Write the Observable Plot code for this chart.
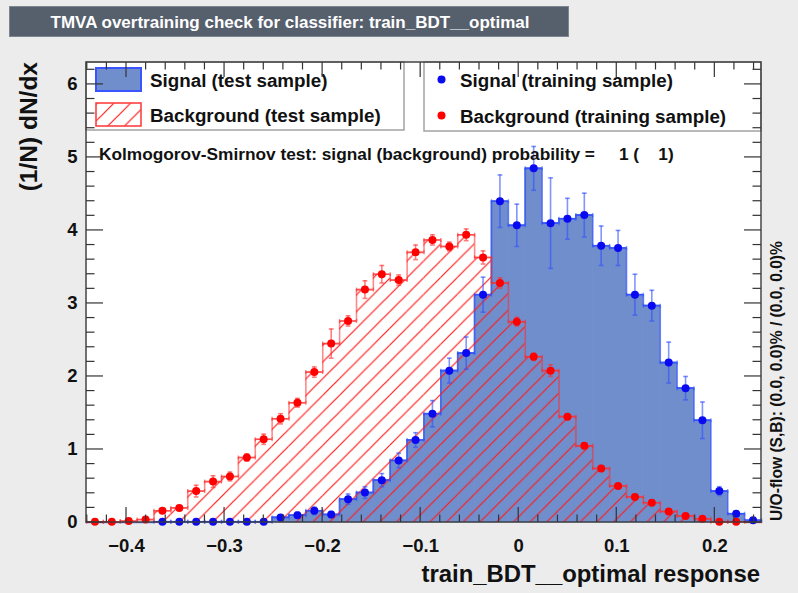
<!DOCTYPE html>
<html>
<head>
<meta charset="utf-8">
<script src="https://cdn.jsdelivr.net/npm/d3@7"></script>
<script src="https://cdn.jsdelivr.net/npm/@observablehq/plot@0.6"></script>
<style>
  html, body { margin: 0; padding: 0; background: #ececec; }
  #chart { width: 798px; height: 593px; }
  text { font-family: "Liberation Sans", Arial, Helvetica, sans-serif; }
</style>
</head>
<body>
<div id="chart"></div>
<script>
// ---- Histogram definition (40 bins) ----
const nBins = 40;
const xMin = -0.4408;
const xMax = 0.2476;

// Signal (test sample) histogram, normalised (1/N dN/dx)
const sigTest = [0, 0, 0, 0, 0.01, 0.01, 0.01, 0.01, 0.01, 0.01,
  0.01, 0.07, 0.10, 0.16, 0.11, 0.32, 0.41, 0.58, 0.85, 1.13,
  1.49, 2.08, 2.32, 3.12, 4.40, 4.07, 4.85, 4.10, 4.16, 4.21,
  3.79, 3.76, 3.12, 2.97, 2.19, 1.84, 1.40, 0.43, 0.12, 0.03];
// Signal (training sample) points
const sigTrain = [null, null, null, null, 0.01, 0.01, 0.01, 0.01, 0.01, 0.01,
  0.01, 0.07, 0.10, 0.16, 0.11, 0.32, 0.41, 0.58, 0.85, 1.13,
  1.49, 2.08, 2.32, 3.12, 4.40, 4.07, 4.85, 4.10, 4.16, 4.21,
  3.79, 3.76, 3.12, 2.97, 2.19, 1.84, 1.40, 0.43, 0.12, 0.03];
const sigErr = [0, 0, 0, 0, 0.01, 0.01, 0.01, 0.01, 0.01, 0.01,
  0.01, 0.03, 0.04, 0.05, 0.04, 0.07, 0.08, 0.09, 0.10, 0.10,
  0.18, 0.17, 0.22, 0.24, 0.36, 0.29, 0.30, 0.62, 0.28, 0.30,
  0.27, 0.24, 0.28, 0.21, 0.28, 0.16, 0.25, 0.06, 0.04, 0.02];

// Background (test sample) histogram
const bkgTest = [0.01, 0.01, 0.02, 0.04, 0.16, 0.20, 0.43, 0.56, 0.63, 0.89,
  1.14, 1.42, 1.64, 2.06, 2.45, 2.76, 3.19, 3.40, 3.32, 3.70,
  3.87, 3.78, 3.94, 3.63, 3.28, 2.75, 2.27, 2.08, 1.45, 1.05,
  0.74, 0.50, 0.35, 0.27, 0.15, 0.09, 0.05, 0.01, 0.01, 0];
// Background (training sample) points
const bkgTrain = [0.01, 0.01, 0.02, 0.04, 0.16, 0.20, 0.43, 0.56, 0.63, 0.89,
  1.14, 1.42, 1.64, 2.06, 2.45, 2.76, 3.19, 3.40, 3.32, 3.70,
  3.87, 3.78, 3.94, 3.63, 3.28, 2.75, 2.27, 2.08, 1.45, 1.05,
  0.74, 0.50, 0.35, 0.27, 0.15, 0.09, 0.05, 0.01, 0.01, null];
const bkgErr = [0.01, 0.01, 0.01, 0.02, 0.03, 0.03, 0.08, 0.08, 0.06, 0.05,
  0.07, 0.07, 0.06, 0.07, 0.20, 0.07, 0.12, 0.12, 0.07, 0.10,
  0.07, 0.06, 0.08, 0.09, 0.07, 0.06, 0.05, 0.08, 0.04, 0.04,
  0.04, 0.03, 0.03, 0.03, 0.02, 0.02, 0.02, 0.01, 0.01, 0];

// Axis ticks and texts
const xTicks = [-0.4, -0.3, -0.2, -0.1, 0, 0.1, 0.2];
const yTicks = [0, 1, 2, 3, 4, 5, 6];
const yMax = 6.30;
const titleText = "TMVA overtraining check for classifier: train_BDT__optimal";
const xLabel = "train_BDT__optimal response";
const yLabel = "(1/N) dN/dx";
const ksText = "Kolmogorov-Smirnov test: signal (background) probability =     1 (    1)";
const flowText = "U/O-flow (S,B): (0.0, 0.0)% / (0.0, 0.0)%";
const legendLeft = ["Signal (test sample)", "Background (test sample)"];
const legendRight = ["Signal (training sample)", "Background (training sample)"];

// ---- Build tables ----
const bw = (xMax - xMin) / nBins;
const bins = d3.range(nBins).map(i => ({lo: xMin + i * bw, hi: xMin + (i + 1) * bw, c: xMin + (i + 0.5) * bw}));
const histTable = (vals) => bins.map((b, i) => ({...b, v: vals[i] ?? 0}));
const outline = (vals) => {
  const pts = [{x: xMin, y: 0}];
  bins.forEach((b, i) => pts.push({x: b.lo, y: vals[i] ?? 0}));
  pts.push({x: xMax, y: vals[nBins - 1] ?? 0});
  pts.push({x: xMax, y: 0});
  return pts;
};
const pointTable = (vals, errs) => bins.map((b, i) => ({...b, v: vals[i], e: errs[i]})).filter(d => d.v != null);

const sigH = histTable(sigTest), bkgH = histTable(bkgTest);
const sigP = pointTable(sigTrain, sigErr), bkgP = pointTable(bkgTrain, bkgErr);

const hCap = {draw(ctx, size) { const r = Math.sqrt(size / Math.PI); ctx.moveTo(-r, 0); ctx.lineTo(r, 0); }};
const vCap = {draw(ctx, size) { const r = Math.sqrt(size / Math.PI); ctx.moveTo(0, -r); ctx.lineTo(0, r); }};

const SIG_FILL = "#708ecc", SIG_LINE = "#2f4fff", SIG_PT = "#0a0af0";
const BKG_LINE = "#ff2a2a", BKG_PT = "#ff0000";
const FONT = "Liberation Sans, Arial, Helvetica, sans-serif";

function errorMarks(data, color, ptColor) {
  const s = {stroke: color, strokeOpacity: 0.6, strokeWidth: 1.6};
  return [
    Plot.ruleX(data, {x: "c", y1: d => d.v - d.e, y2: d => d.v + d.e, ...s}),
    Plot.ruleY(data, {y: "v", x1: "lo", x2: "hi", ...s}),
    Plot.dot(data, {x: "c", y: d => d.v + d.e, symbol: hCap, r: 2.4, ...s}),
    Plot.dot(data, {x: "c", y: d => d.v - d.e, symbol: hCap, r: 2.4, ...s}),
    Plot.dot(data, {x: "lo", y: "v", symbol: vCap, r: 2, ...s, strokeWidth: 1.4}),
    Plot.dot(data, {x: "hi", y: "v", symbol: vCap, r: 2, ...s, strokeWidth: 1.4}),
    Plot.dot(data, {x: "c", y: "v", r: 4, fill: ptColor, stroke: "none"})
  ];
}

const fmtX = d => d === 0 ? "0" : d3.format(".1f")(d).replace("-", "\u2212");

const plot = Plot.plot({
  width: 798,
  height: 593,
  marginLeft: 86,
  marginRight: 37,
  marginTop: 62,
  marginBottom: 71,
  style: {background: "#ececec", fontFamily: FONT},
  x: {domain: [xMin, xMax]},
  y: {domain: [0, yMax]},
  marks: [
    Plot.frame({fill: "white", stroke: "none"}),
    Plot.rectY(sigH, {x1: "lo", x2: "hi", y1: 0, y2: "v", fill: SIG_FILL, stroke: SIG_FILL, strokeWidth: 0.8, inset: 0}),
    Plot.line(outline(sigTest), {x: "x", y: "y", curve: "step-after", stroke: SIG_LINE, strokeOpacity: 0.7, strokeWidth: 1.6}),
    Plot.rectY(bkgH, {x1: "lo", x2: "hi", y1: 0, y2: "v", fill: "url(#hatchRed)", inset: 0}),
    Plot.line(outline(bkgTest), {x: "x", y: "y", curve: "step-after", stroke: BKG_LINE, strokeOpacity: 0.55, strokeWidth: 1.6}),
    ...errorMarks(sigP, SIG_LINE, SIG_PT),
    ...errorMarks(bkgP, BKG_LINE, BKG_PT),
    Plot.axisX({ticks: xTicks, tickFormat: fmtX, tickSize: 0, tickPadding: 16, fontSize: 18.5, fontWeight: "bold", fill: "#111", label: null}),
    Plot.axisY({ticks: yTicks, tickFormat: d3.format("d"), tickSize: 0, tickPadding: 9, fontSize: 18.5, fontWeight: "bold", fill: "#111", label: null})
  ]
});
document.getElementById("chart").appendChild(plot);

// ---- Decorations drawn with the plot's own scales ----
const svg = d3.select(plot);
const sx = plot.scale("x"), sy = plot.scale("y");
const X = d3.scaleLinear(sx.domain, sx.range);
const Y = d3.scaleLinear(sy.domain, sy.range);
const [fx0, fx1] = sx.range, [fy0, fy1] = sy.range; // fy0 = bottom, fy1 = top

// hatch pattern
const pat = svg.insert("defs", ":first-child").append("pattern")
  .attr("id", "hatchRed").attr("patternUnits", "userSpaceOnUse")
  .attr("width", 16.7).attr("height", 16.7);
pat.append("path").attr("d", "M0,16.7L16.7,0M-4,4L4,-4M12.7,20.7L20.7,12.7")
  .attr("stroke", "#ff1a1a").attr("stroke-width", 1.2).attr("fill", "none");

const deco = svg.append("g").attr("text-anchor", "start").attr("font-family", FONT);
const txt = (g, x, y, s, size, anchor = "start") => g.append("text").attr("x", x).attr("y", y)
  .attr("text-anchor", anchor).attr("dominant-baseline", "central")
  .attr("font-weight", "bold").attr("font-size", size).attr("fill", "#111").text(s);

// title box
deco.append("rect").attr("x", 9.5).attr("y", 6.5).attr("width", 559).attr("height", 30)
  .attr("fill", "#56606d").attr("stroke", "#7d8590");
txt(deco, 290, 22, titleText, 17, "middle").attr("fill", "white");

// axis titles
deco.append("text").attr("transform", `translate(37,${fy1}) rotate(-90)`).attr("text-anchor", "end")
  .attr("font-weight", "bold").attr("font-size", 24.5).attr("fill", "#111").text(yLabel);
txt(deco, fx1 - 1, 573, xLabel, 23.9, "end");
deco.append("text").attr("transform", `translate(782,${fy0 - 1}) rotate(-90)`).attr("text-anchor", "start")
  .attr("font-weight", "bold").attr("font-size", 15.6).attr("fill", "#111").text(flowText);

// legends
const leg = deco.append("g");
leg.append("rect").attr("x", fx0).attr("y", fy1).attr("width", 404 - fx0).attr("height", 68)
  .attr("fill", "white").attr("stroke", "#a3a3a3").attr("stroke-width", 1.5);
leg.append("rect").attr("x", 424).attr("y", fy1).attr("width", fx1 - 424).attr("height", 69)
  .attr("fill", "white").attr("stroke", "#a3a3a3").attr("stroke-width", 1.5);
leg.append("rect").attr("x", 96).attr("y", 68).attr("width", 45).attr("height", 23)
  .attr("fill", SIG_FILL).attr("stroke", "#3a55ff").attr("stroke-width", 2);
leg.append("rect").attr("x", 96).attr("y", 103).attr("width", 45).attr("height", 23)
  .attr("fill", "url(#hatchRed)").attr("stroke", "#ff4040").attr("stroke-width", 1.6);
txt(leg, 150, 80, legendLeft[0], 18.8);
txt(leg, 150, 115.5, legendLeft[1], 18.8);
leg.append("circle").attr("cx", 441.5).attr("cy", 79.5).attr("r", 4).attr("fill", SIG_PT);
leg.append("circle").attr("cx", 441.5).attr("cy", 115.5).attr("r", 4).attr("fill", BKG_PT);
txt(leg, 460, 80, legendRight[0], 18.8);
txt(leg, 460, 116, legendRight[1], 18.8);

// KS text
txt(deco, 99, 154, ksText, 17.3).style("white-space", "pre").attr("xml:space", "preserve");

// frame & ticks (inside, mirrored)
const tg = deco.append("g").attr("stroke", "#333").attr("stroke-width", 1.2);
const isMajorX = v => xTicks.some(t => Math.abs(t - v) < 1e-6);
const xMinor = d3.range(-0.44, xMax, 0.02).filter(v => v >= xMin && !isMajorX(v));
xMinor.forEach(v => {
  tg.append("line").attr("x1", X(v)).attr("x2", X(v)).attr("y1", fy0).attr("y2", fy0 - 7.5);
  tg.append("line").attr("x1", X(v)).attr("x2", X(v)).attr("y1", fy1).attr("y2", fy1 + 7.5);
});
xTicks.forEach(v => {
  tg.append("line").attr("x1", X(v)).attr("x2", X(v)).attr("y1", fy0).attr("y2", fy0 - 15);
  tg.append("line").attr("x1", X(v)).attr("x2", X(v)).attr("y1", fy1).attr("y2", fy1 + 15);
});
const yMinor = d3.range(0, yMax, 0.2).filter(v => Math.abs(v - Math.round(v)) > 1e-6);
yMinor.forEach(v => {
  tg.append("line").attr("x1", fx0).attr("x2", fx0 + 8.5).attr("y1", Y(v)).attr("y2", Y(v));
  tg.append("line").attr("x1", fx1).attr("x2", fx1 - 8.5).attr("y1", Y(v)).attr("y2", Y(v));
});
yTicks.forEach(v => {
  tg.append("line").attr("x1", fx0).attr("x2", fx0 + 17).attr("y1", Y(v)).attr("y2", Y(v));
  tg.append("line").attr("x1", fx1).attr("x2", fx1 - 17).attr("y1", Y(v)).attr("y2", Y(v));
});
tg.append("rect").attr("x", fx0).attr("y", fy1).attr("width", fx1 - fx0).attr("height", fy0 - fy1)
  .attr("fill", "none").attr("stroke", "#3a3a3a").attr("stroke-width", 1.4);
</script>
</body>
</html>
